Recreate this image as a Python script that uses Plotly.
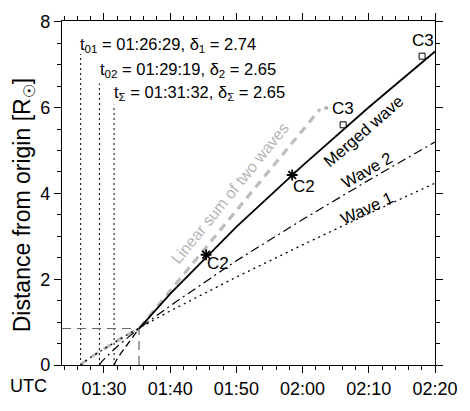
import plotly.graph_objects as go

DAY = "2000-01-01 "

# ---- data ----
W1_T = ["01:26:29", "01:27:00", "01:28:00", "01:30:00", "01:33:00", "01:36:00",
        "01:40:00", "01:50:00", "02:00:00", "02:10:00", "02:20:00"]
W1_D = [0, 0.07, 0.18, 0.38, 0.66, 0.92, 1.26, 2.05, 2.80, 3.53, 4.24]

W2_T = ["01:29:19", "01:29:40", "01:30:30", "01:32:00", "01:34:00", "01:36:00",
        "01:40:00", "01:50:00", "02:00:00", "02:10:00", "02:20:00"]
W2_D = [0, 0.08, 0.21, 0.43, 0.69, 0.93, 1.38, 2.43, 3.39, 4.31, 5.20]

MP_T = ["01:31:32", "01:31:50", "01:32:30", "01:33:30", "01:34:30", "01:35:18"]
MP_D = [0, 0.10, 0.26, 0.48, 0.68, 0.85]

MS_T = ["01:35:18", "01:40:00", "01:50:00", "02:00:00", "02:10:00", "02:20:00"]
MS_D = [0.85, 1.66, 3.22, 4.65, 6.01, 7.31]

SUM_T = ["01:26:29", "01:27:00", "01:28:00", "01:30:00", "01:33:00", "01:35:18", "02:02:40"]
SUM_D = [0, 0.07, 0.18, 0.38, 0.66, 0.85, 5.97]

MERGE_T = "01:35:18"
MERGE_D = 0.85

T0_T = ["01:26:29", "01:29:19", "01:31:32"]
T0_TOP = [7.25, 6.56, 6.07]

C2_T = ["01:45:26", "01:58:26"]
C2_D = [2.57, 4.43]
C3_T = ["02:06:08", "02:18:03"]
C3_D = [5.60, 7.20]
C3G_T = ["02:03:34"]
C3G_D = [5.99]

ANN_LINES = ["t<sub>01</sub> = 01:26:29, δ<sub>1</sub> = 2.74",
             "t<sub>02</sub> = 01:29:19, δ<sub>2</sub> = 2.65",
             "t<sub>Σ</sub> = 01:31:32, δ<sub>Σ</sub> = 2.65"]
ANN_T = ["01:26:04", "01:29:09", "01:31:14"]
ANN_D = [7.46, 6.88, 6.33]

X_RANGE = ["01:23:40", "02:20:00"]
Y_RANGE = [0, 8.02]


def T(s):
    return DAY + s


def Ts(lst):
    return [T(s) for s in lst]


FONT = "Liberation Sans, Arial, Helvetica, sans-serif"
fig = go.Figure()

# vertical dotted onset lines
for t, top in zip(T0_T, T0_TOP):
    fig.add_trace(go.Scatter(x=[T(t), T(t)], y=[0, top], mode="lines",
                             line=dict(color="black", width=1, dash="2px,3px"),
                             showlegend=False, hoverinfo="skip"))

# merge guide lines
fig.add_trace(go.Scatter(x=[T(X_RANGE[0]), T(MERGE_T)], y=[MERGE_D, MERGE_D], mode="lines",
                         line=dict(color="#666666", width=1, dash="9px,6px"),
                         showlegend=False, hoverinfo="skip"))
fig.add_trace(go.Scatter(x=[T(MERGE_T), T(MERGE_T)], y=[0, MERGE_D], mode="lines",
                         line=dict(color="#444444", width=1, dash="9px,6px"),
                         showlegend=False, hoverinfo="skip"))

# linear sum (gray dashed)
fig.add_trace(go.Scatter(x=Ts(SUM_T), y=SUM_D, mode="lines",
                         line=dict(color="#bdbdbd", width=3.2, dash="8px,6px"),
                         showlegend=False, hoverinfo="skip"))

# wave 1 dotted
fig.add_trace(go.Scatter(x=Ts(W1_T), y=W1_D, mode="lines",
                         line=dict(color="black", width=1.3, dash="2px,4px"),
                         showlegend=False, hoverinfo="skip"))
# wave 2 dash-dot
fig.add_trace(go.Scatter(x=Ts(W2_T), y=W2_D, mode="lines",
                         line=dict(color="black", width=1.2, dash="9px,4px,2px,4px"),
                         showlegend=False, hoverinfo="skip"))
# merged, extrapolated part
fig.add_trace(go.Scatter(x=Ts(MP_T), y=MP_D, mode="lines",
                         line=dict(color="black", width=1.3, dash="7px,4px"),
                         showlegend=False, hoverinfo="skip"))
# merged wave solid
fig.add_trace(go.Scatter(x=Ts(MS_T), y=MS_D, mode="lines",
                         line=dict(color="black", width=1.8),
                         showlegend=False, hoverinfo="skip"))

# markers
fig.add_trace(go.Scatter(x=Ts(C2_T), y=C2_D, mode="markers",
                         marker=dict(symbol="asterisk", size=9, color="black",
                                     line=dict(color="black", width=1.8)),
                         showlegend=False, hoverinfo="skip"))
fig.add_trace(go.Scatter(x=Ts(C3_T), y=C3_D, mode="markers",
                         marker=dict(symbol="square-open", size=6, color="black",
                                     line=dict(color="black", width=1)),
                         showlegend=False, hoverinfo="skip"))
fig.add_trace(go.Scatter(x=Ts(C3G_T), y=C3G_D, mode="markers",
                         marker=dict(symbol="circle", size=4, color="#b0b0b0"),
                         showlegend=False, hoverinfo="skip"))

anns = []
for txt, t, d in zip(ANN_LINES, ANN_T, ANN_D):
    anns.append(dict(x=T(t), y=d, text=txt, showarrow=False, xanchor="left",
                     yanchor="middle", font=dict(size=16.5, color="black", family=FONT)))


def lab(text, t, d, angle=0, color="black", size=17):
    anns.append(dict(x=T(t), y=d, text=text, showarrow=False, xanchor="center",
                     yanchor="middle", textangle=angle,
                     font=dict(size=size, color=color, family=FONT)))


lab("C2", "01:47:12", 2.36)
lab("C2", "02:00:09", 4.16)
lab("C3", "02:06:10", 5.97)
lab("C3", "02:18:10", 7.57)
lab("Merged wave", "02:09:10", 5.45, -41, size=16.5)
lab("Wave 2", "02:09:40", 4.55, -30, size=16.5)
lab("Wave 1", "02:09:40", 3.66, -25, size=16.5)
lab("Linear sum of two waves", "01:49:00", 4.00, -51, color="#b5b5b5", size=16)

# axis titles
anns.append(dict(xref="paper", yref="paper", x=-0.104, y=0.465,
                 text="Distance from origin [R<sub>☉</sub>]", showarrow=False,
                 textangle=-90, xanchor="center", yanchor="middle",
                 font=dict(size=23, color="black", family=FONT)))
anns.append(dict(xref="paper", yref="paper", x=-0.089, y=-0.061, text="UTC",
                 showarrow=False, xanchor="center", yanchor="middle",
                 font=dict(size=18, color="black", family=FONT)))

fig.update_layout(
    width=470, height=411,
    margin=dict(l=62, r=25, t=12, b=38),
    paper_bgcolor="white", plot_bgcolor="white",
    annotations=anns,
    font=dict(family=FONT, size=18, color="black"),
)
fig.update_xaxes(type="date", range=[T(X_RANGE[0]), T(X_RANGE[1])],
                 tickformat="%H:%M", tick0=T("01:30:00"), dtick=600000,
                 ticks="outside", ticklen=7, tickwidth=1.2, tickcolor="black",
                 showline=True, linecolor="black", linewidth=1.2, mirror="ticks",
                 showgrid=False, zeroline=False,
                 tickfont=dict(size=18, family=FONT, color="black"),
                 minor=dict(dtick=120000, ticks="outside", ticklen=4, tickcolor="black",
                            showgrid=False))
fig.update_yaxes(range=Y_RANGE, dtick=2, tick0=0,
                 ticks="outside", ticklen=7, tickwidth=1.2, tickcolor="black",
                 showline=True, linecolor="black", linewidth=1.2, mirror="ticks",
                 showgrid=False, zeroline=False,
                 tickfont=dict(size=18, family=FONT, color="black"),
                 minor=dict(dtick=0.5, ticks="outside", ticklen=4, tickcolor="black",
                            showgrid=False))

fig.write_html("out.html")
